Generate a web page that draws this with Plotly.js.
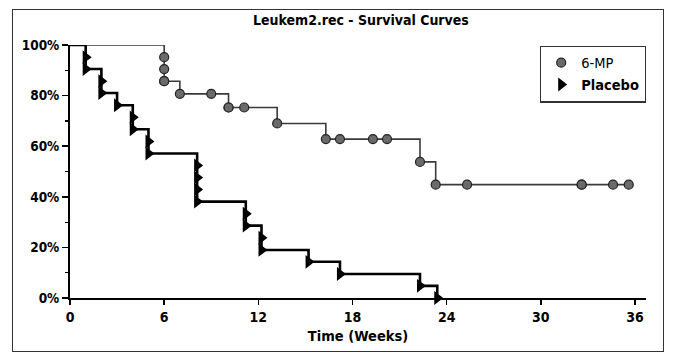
<!DOCTYPE html>
<html>
<head>
<meta charset="utf-8">
<script src="https://cdn.plot.ly/plotly-3.0.1.min.js"></script>
<style>
  html, body { margin: 0; padding: 0; background: #fff; }
  #wrap { position: relative; width: 681px; height: 364px; }
  #chart { width: 681px; height: 364px; }
  #frame { position: absolute; left: 12px; top: 9px; width: 650px; height: 341px;
           border: 1.5px solid #333; pointer-events: none; }
</style>
</head>
<body>
<div id="wrap">
  <div id="chart"></div>
  <div id="frame"></div>
</div>
<script>
// ---- Data ----
// 6-MP group: time (weeks) and survival proportion after each observation
var mpTimes = [6, 6, 6, 6, 7, 9, 10.1, 10.1, 11.1, 13.2, 16.3, 17.2, 19.3, 20.2, 22.3, 23.3, 25.3, 32.6, 32.6, 34.6, 35.6];
var mpSurv  = [0.952, 0.905, 0.857, 0.857, 0.807, 0.807, 0.753, 0.753, 0.753, 0.690, 0.628, 0.628, 0.628, 0.628, 0.538, 0.448, 0.448, 0.448, 0.448, 0.448, 0.448];

// Placebo group
var plTimes = [1, 1, 2, 2, 3, 4, 4, 5, 5, 8.1, 8.1, 8.1, 8.1, 11.2, 11.2, 12.2, 12.2, 15.2, 17.2, 22.3, 23.4];
var plSurv  = [0.952, 0.905, 0.857, 0.810, 0.762, 0.714, 0.667, 0.619, 0.571, 0.524, 0.476, 0.429, 0.381, 0.333, 0.286, 0.238, 0.190, 0.143, 0.095, 0.048, 0.0];

var startTime = [0];
var startSurv = [1];

var seriesNames = ["6-MP", "<b>Placebo</b>"];

var xTickVals = [0, 6, 12, 18, 24, 30, 36];
var xTickText = ["0", "6", "12", "18", "24", "30", "36"];
var yTickVals = [0, 0.2, 0.4, 0.6, 0.8, 1.0];
var yTickText = ["0%", "20%", "40%", "60%", "80%", "100%"];

var titleText = "Leukem2.rec - Survival Curves";
var xTitleText = "Time (Weeks)";

// ---- Traces ----
var FONT = "'DejaVu Sans Condensed', 'Liberation Sans Narrow', sans-serif";

var traces = [
  { // 6-MP step line
    x: startTime.concat(mpTimes), y: startSurv.concat(mpSurv),
    mode: "lines", line: { shape: "hv", color: "#3a3a3a", width: 1.6 },
    showlegend: false, hoverinfo: "skip", cliponaxis: false
  },
  { // Placebo step line
    x: startTime.concat(plTimes), y: startSurv.concat(plSurv),
    mode: "lines", line: { shape: "hv", color: "#000", width: 2.6 },
    showlegend: false, hoverinfo: "skip", cliponaxis: false
  },
  { // 6-MP markers
    x: mpTimes, y: mpSurv, name: seriesNames[0], mode: "markers",
    marker: { symbol: "circle", size: 9, color: "#6a6a6a", line: { color: "#222", width: 1.2 } },
    cliponaxis: false
  },
  { // Placebo markers
    x: plTimes, y: plSurv, name: seriesNames[1], mode: "markers",
    marker: { symbol: "triangle-right", size: 12, color: "#000", line: { width: 0 } },
    cliponaxis: false
  }
];

var layout = {
  width: 681, height: 364,
  margin: { l: 70, r: 35, t: 45, b: 66, pad: 0 },
  paper_bgcolor: "#fff", plot_bgcolor: "#fff",
  font: { family: FONT, size: 14, color: "#000" },
  title: {
    text: "<b>" + titleText + "</b>",
    font: { family: FONT, size: 14, color: "#000" },
    x: 0.53, xref: "container", xanchor: "center",
    y: 0.945, yref: "container", yanchor: "middle"
  },
  xaxis: {
    range: [0, 36.7], showgrid: false, zeroline: false,
    showline: true, linecolor: "#000", linewidth: 2,
    ticks: "outside", ticklen: 5, tickwidth: 1.5, tickcolor: "#000",
    tickvals: xTickVals, ticktext: xTickText.map(function (t) { return "<b>" + t + "</b>"; }),
    tickfont: { family: FONT, size: 14, color: "#000" },
    title: { text: "<b>" + xTitleText + "</b>", font: { family: FONT, size: 14.5, color: "#000" }, standoff: 7 },
    fixedrange: true
  },
  yaxis: {
    range: [0, 1], showgrid: false, zeroline: false,
    showline: true, linecolor: "#000", linewidth: 2,
    ticks: "outside", ticklen: 6, tickwidth: 1.5, tickcolor: "#000",
    tickvals: yTickVals, ticktext: yTickText.map(function (t) { return "<b>" + t + "</b>"; }),
    tickfont: { family: FONT, size: 13.5, color: "#000" },
    minor: { dtick: 0.1, ticks: "outside", ticklen: 3, tickwidth: 1.2, tickcolor: "#000" },
    fixedrange: true
  },
  showlegend: true,
  legend: {
    x: 1.0, xanchor: "right", y: 0.998, yanchor: "top",
    bgcolor: "#fff", bordercolor: "#333", borderwidth: 1.2,
    font: { family: FONT, size: 14.5, color: "#000" },
    itemwidth: 30, tracegroupgap: 0
  }
};

Plotly.newPlot("chart", traces, layout, { displayModeBar: false, staticPlot: true });
</script>
</body>
</html>
